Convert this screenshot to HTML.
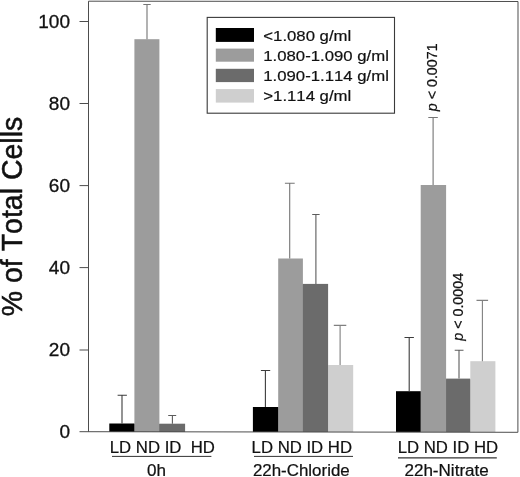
<!DOCTYPE html>
<html><head><meta charset="utf-8"><title>Chart</title>
<style>
html,body{margin:0;padding:0;background:#fff;}
body{width:520px;height:477px;overflow:hidden;}
svg{display:block;}
text{font-family:"Liberation Sans",sans-serif;fill:#111;stroke:#111;stroke-width:0.22px;font-kerning:none;}
text.yl{stroke-width:0.5px;}
.tk text{stroke-width:0.3px;}
svg{filter:grayscale(1);}
</style></head><body>
<svg width="520" height="477" viewBox="0 0 520 477">
<rect x="0" y="0" width="520" height="477" fill="#fff"/>
<!-- bars -->
<g>
<rect x="133.7" y="423.8" width="1.4" height="8.2" fill="#4e4e4e"/>
<rect x="158.7" y="424.0" width="1.4" height="8.0" fill="#838383"/>
<rect x="277.5" y="407.3" width="1.4" height="24.7" fill="#4e4e4e"/>
<rect x="302.2" y="284.2" width="1.4" height="147.8" fill="#838383"/>
<rect x="327.4" y="365.3" width="1.4" height="66.7" fill="#9d9d9d"/>
<rect x="420.0" y="391.5" width="1.4" height="40.5" fill="#4e4e4e"/>
<rect x="445.4" y="379.3" width="1.4" height="52.7" fill="#838383"/>
<rect x="469.6" y="379.3" width="1.4" height="52.7" fill="#9d9d9d"/>
</g>
<g>
<rect x="109.3" y="423.5" width="25.1" height="8.5" fill="#000"/>
<rect x="134.4" y="39.2" width="25" height="392.8" fill="#9c9c9c"/>
<rect x="159.4" y="423.7" width="25.7" height="8.3" fill="#6b6b6b"/>

<rect x="252.9" y="407" width="25.3" height="25.0" fill="#000"/>
<rect x="278.2" y="258.5" width="24.7" height="173.5" fill="#9c9c9c"/>
<rect x="302.9" y="283.9" width="25.2" height="148.1" fill="#6b6b6b"/>
<rect x="328.1" y="365" width="25.1" height="67.0" fill="#cfcfcf"/>

<rect x="396" y="391.2" width="24.7" height="40.8" fill="#000"/>
<rect x="420.7" y="185" width="25.4" height="247.0" fill="#9c9c9c"/>
<rect x="446.1" y="378.6" width="24.2" height="53.4" fill="#6b6b6b"/>
<rect x="470.3" y="361.2" width="25.1" height="70.8" fill="#cfcfcf"/>
</g>
<!-- error bars -->
<g stroke-width="1.1" fill="none">
<g stroke="#3c3c3c">
<path d="M122 423.5V395.3M117.6 395.3h9.3"/>
<path d="M265.4 407V370.5M260.9 370.5h9.3"/>
<path d="M409.2 391.2V337.5M404.5 337.5h9.4"/>
</g>
<g stroke="#757575">
<path d="M147 39.2V4.5M143.3 4.5h7.4"/>
<path d="M289.7 258.5V183.2M284.9 183.2h9.8"/>
<path d="M433.1 185V117.5M428.3 117.5h9.5"/>
</g>
<g stroke="#5c5c5c">
<path d="M172.4 423.7V415.5M168.2 415.5h8"/>
<path d="M315.9 283.9V214.5M312.2 214.5h7.4"/>
<path d="M459 378.6V350.3M454.7 350.3h8.8"/>
</g>
<g stroke="#808080">
<path d="M340.1 365V325.4M333.8 325.4h12.5"/>
<path d="M482.4 361.2V300.4M476.5 300.4h11.6"/>
</g>
</g>
<!-- frame -->
<g stroke="#4d4d4d" stroke-width="1" fill="none">
<path d="M88.5 1.2L518 1.5L517.9 432.3L79.5 431.7"/>
<path d="M88.5 1.2V431.8"/>
<path d="M79.5 21.5h9M79.5 103.5h9M79.5 185.6h9M79.5 267.6h9M79.5 350h9"/>
</g>
<!-- y tick labels -->
<g class="tk" font-size="19" text-anchor="end">
<text x="70" y="27.6">100</text>
<text x="70" y="109.7">80</text>
<text x="70" y="191.9">60</text>
<text x="70" y="274">40</text>
<text x="70" y="356.2">20</text>
<text x="70" y="438.3">0</text>
</g>
<!-- y label -->
<text class="yl" transform="translate(21.8 316.3) rotate(-90) scale(1 1.035)" font-size="28.5">% of Total Cells</text>
<!-- legend -->
<rect x="207.2" y="17.4" width="187.3" height="95.8" fill="#fff" stroke="#3a3a3a" stroke-width="1.1"/>
<g>
<rect x="215.8" y="28" width="38.2" height="13.9" fill="#000"/>
<rect x="215.8" y="48.6" width="38.2" height="13.1" fill="#9c9c9c"/>
<rect x="215.8" y="68.8" width="38.2" height="13.3" fill="#6b6b6b"/>
<rect x="215.8" y="89.1" width="38.2" height="13.5" fill="#cfcfcf"/>
</g>
<g font-size="15.5">
<text transform="translate(263.3 41) scale(1.08 1)">&lt;1.080 g/ml</text>
<text transform="translate(263.3 60.8) scale(1.08 1)">1.080-1.090 g/ml</text>
<text transform="translate(263.3 80.8) scale(1.08 1)">1.090-1.114 g/ml</text>
<text transform="translate(263.3 101.2) scale(1.08 1)">&gt;1.114 g/ml</text>
</g>
<!-- p labels -->
<g font-size="14.3">
<text transform="translate(437.2 111.3) rotate(-90)"><tspan font-style="italic">p</tspan> &lt; 0.0071</text>
<text transform="translate(463 340.8) rotate(-90)"><tspan font-style="italic">p</tspan> &lt; 0.0004</text>
</g>
<!-- x labels -->
<g font-size="15.8">
<text transform="translate(109.8 453) scale(1.06 1)" xml:space="preserve">LD ND ID  HD</text>
<text transform="translate(251.6 453) scale(1.06 1)">LD ND ID HD</text>
<text transform="translate(397.7 453.3) scale(1.06 1)">LD ND ID HD</text>
</g>
<g stroke="#333" stroke-width="1" fill="none">
<path d="M112 456.4H211.4M254 456.4H353"/><path stroke-width="1.3" d="M398 457.8H496.8"/>
</g>
<g font-size="15.8" text-anchor="middle">
<text transform="translate(156.6 476.2) scale(1.08 1)">0h</text>
<text transform="translate(301.3 476.2) scale(1.07 1)">22h-Chloride</text>
<text transform="translate(446.6 476.2) scale(1.08 1)">22h-Nitrate</text>
</g>
</svg>
</body></html>
